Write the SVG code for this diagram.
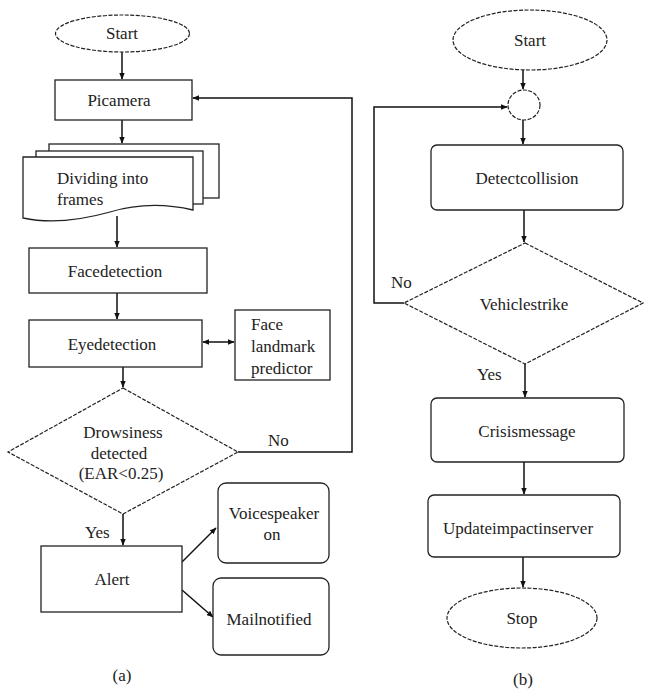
<svg xmlns="http://www.w3.org/2000/svg" width="645" height="692" viewBox="0 0 645 692">
<style>
.s{fill:#fff;stroke:#222;stroke-width:1.3}
.d{fill:#fff;stroke:#222;stroke-width:1.2;stroke-dasharray:4 1.5}
.c{fill:none;stroke:#111;stroke-width:1.5}
.t{font-family:'Liberation Serif','DejaVu Serif',serif;font-size:17px;fill:#222}
.m{text-anchor:middle}
</style>
<defs>
<marker id="ah" viewBox="0 0 10 10" refX="9" refY="5" markerWidth="7" markerHeight="7" orient="auto-start-reverse" markerUnits="userSpaceOnUse">
<path d="M0,1 L10,5 L0,9 Z" fill="#111"/>
</marker>
</defs>
<rect width="645" height="692" fill="#fff"/>
<g id="connectors">
<path class="c" d="M122,52 V79" marker-end="url(#ah)"/>
<path class="c" d="M122,120 V143" marker-end="url(#ah)"/>
<path class="c" d="M117,216 V247" marker-end="url(#ah)"/>
<path class="c" d="M117,293 V319" marker-end="url(#ah)"/>
<path class="c" d="M203,342 H234" marker-start="url(#ah)" marker-end="url(#ah)"/>
<path class="c" d="M123,367 V387" marker-end="url(#ah)"/>
<path class="c" d="M238,452 H352 V98 H193" marker-end="url(#ah)"/>
<path class="c" d="M123,514 V545" marker-end="url(#ah)"/>
<path class="c" d="M182,562 L216,528" marker-end="url(#ah)"/>
<path class="c" d="M182,590 L213,617" marker-end="url(#ah)"/>
<path class="c" d="M523,70 V89" marker-end="url(#ah)"/>
<path class="c" d="M404,303 H374 V107 H507" marker-end="url(#ah)"/>
<path class="c" d="M523,120 V144" marker-end="url(#ah)"/>
<path class="c" d="M524,210 V242" marker-end="url(#ah)"/>
<path class="c" d="M525,364 V397" marker-end="url(#ah)"/>
<path class="c" d="M524,462 V494" marker-end="url(#ah)"/>
<path class="c" d="M523,557 V587" marker-end="url(#ah)"/>
</g>
<g class="t">
<g id="startA"><ellipse class="d" cx="122.5" cy="33.5" rx="67" ry="18.5"/><text class="m" x="122" y="39">Start</text></g>
<g id="picamera"><rect class="s" x="55" y="80" width="137" height="40"/><text class="m" x="119" y="106">Picamera</text></g>
<g id="dividing">
<rect class="s" x="49" y="144" width="170" height="54"/>
<rect class="s" x="36" y="151" width="167" height="53"/>
<path class="s" d="M23,157 H193 V210 Q150,200 110,212 Q60,226 23,218 Z"/>
<text x="57" y="184">Dividing into</text><text x="57" y="205">frames</text>
</g>
<g id="facedetection"><rect class="s" x="29" y="248" width="178" height="45"/><text class="m" x="115" y="277">Facedetection</text></g>
<g id="eyedetection"><rect class="s" x="29" y="320" width="173" height="47"/><text class="m" x="112" y="350">Eyedetection</text></g>
<g id="landmark"><rect class="s" x="235" y="310" width="95" height="70"/><text x="251" y="330">Face</text><text x="251" y="352">landmark</text><text x="251" y="374">predictor</text></g>
<g id="drowsiness"><path class="d" d="M123,388 L238,452 L123,514 L8,452 Z"/><text class="m" x="123" y="438">Drowsiness</text><text class="m" x="119" y="459">detected</text><text class="m" x="121" y="479">(EAR&lt;0.25)</text></g>
<text x="268" y="446">No</text>
<text x="85" y="538">Yes</text>
<g id="alert"><rect class="s" x="41" y="546" width="141" height="66"/><text class="m" x="112" y="585">Alert</text></g>
<g id="voice"><rect class="s" x="218" y="483" width="111" height="80" rx="8"/><text class="m" x="274" y="519">Voicespeaker</text><text class="m" x="272" y="540">on</text></g>
<g id="mail"><rect class="s" x="213" y="578" width="116" height="77" rx="8"/><text class="m" x="269" y="625">Mailnotified</text></g>
<text class="m" x="122" y="681">(a)</text>
<g id="startB"><ellipse class="d" cx="530" cy="40" rx="77" ry="30"/><text class="m" x="530" y="46">Start</text></g>
<g id="junction"><ellipse class="d" cx="524" cy="105" rx="16" ry="15"/></g>
<g id="detectcollision"><rect class="s" x="431" y="145" width="192" height="65" rx="6"/><text class="m" x="527" y="184">Detectcollision</text></g>
<g id="vehiclestrike"><path class="d" d="M525,243 L643,303 L525,364 L404,303 Z"/><text class="m" x="524" y="310">Vehiclestrike</text></g>
<text x="391" y="288">No</text>
<text x="477" y="380">Yes</text>
<g id="crisis"><rect class="s" x="431" y="398" width="193" height="64" rx="6"/><text class="m" x="527" y="437">Crisismessage</text></g>
<g id="update"><rect class="s" x="428" y="495" width="192" height="62" rx="6"/><text class="m" x="518" y="534">Updateimpactinserver</text></g>
<g id="stop"><ellipse class="d" cx="522" cy="618" rx="75" ry="30"/><text class="m" x="522" y="624">Stop</text></g>
<text class="m" x="523" y="685">(b)</text>
</g>
</svg>
